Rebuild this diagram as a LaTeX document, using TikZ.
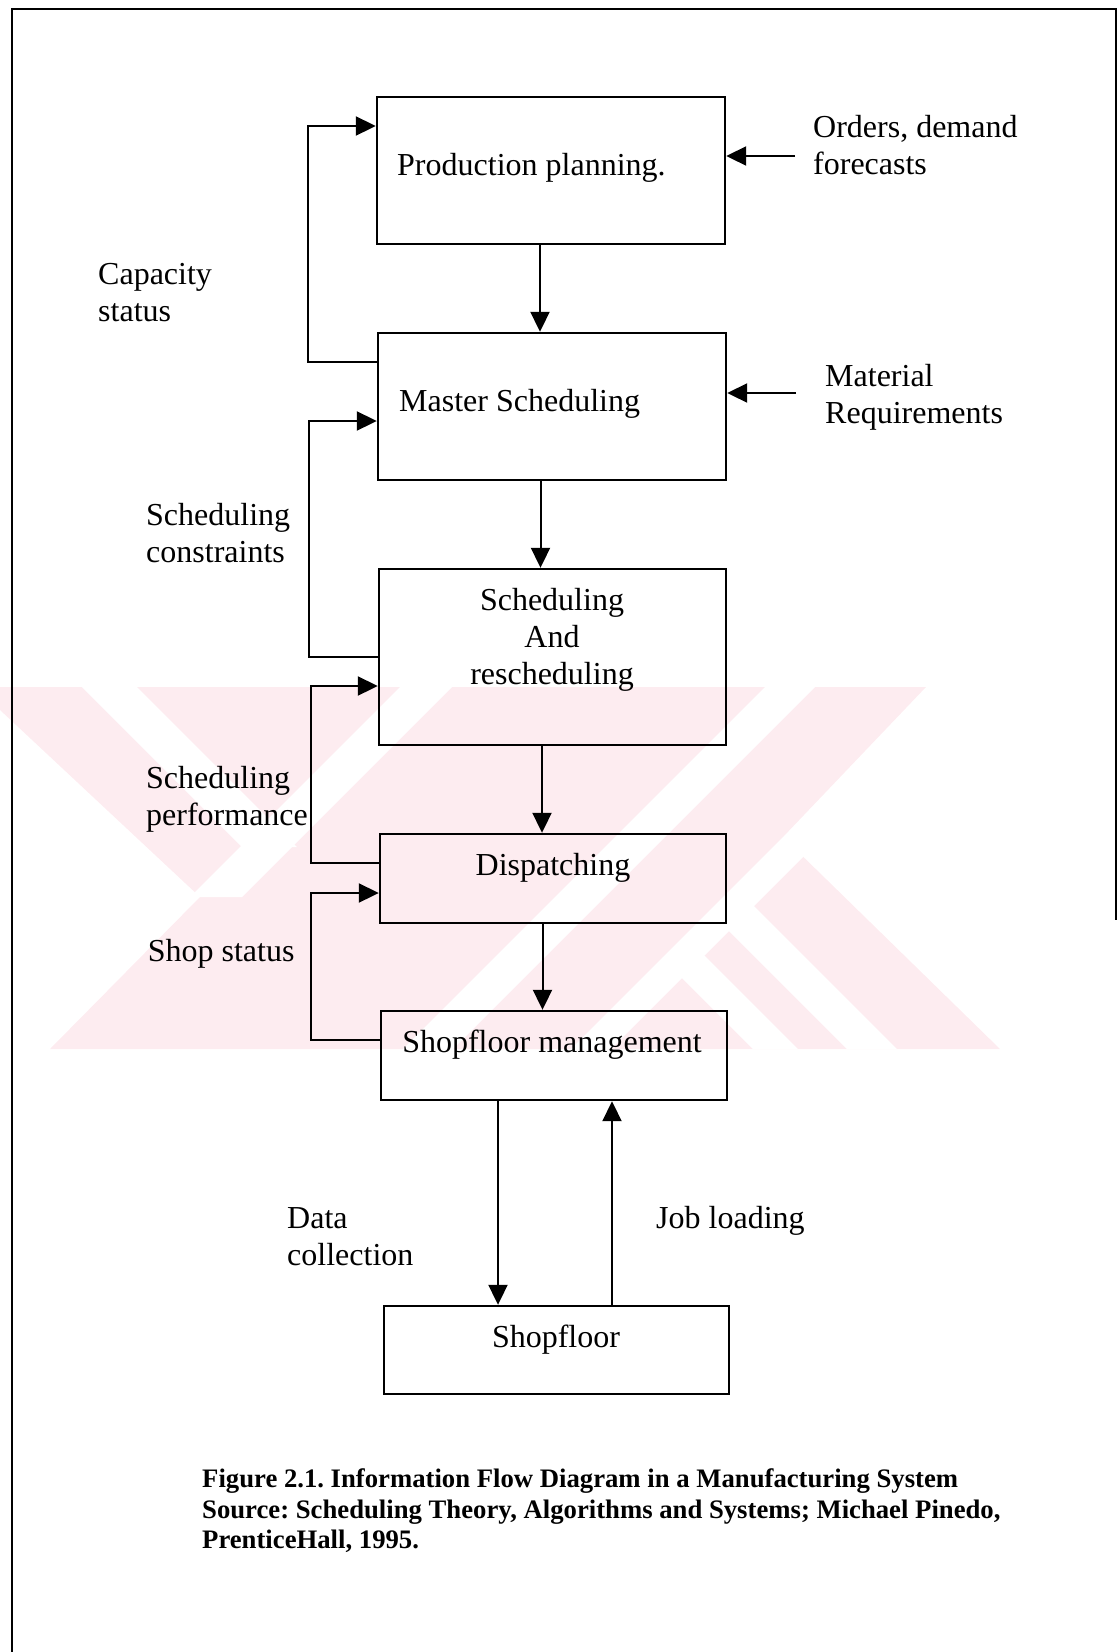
\documentclass[tikz,border=0pt]{standalone}
\usepackage{fontspec}
\setmainfont{Liberation Serif}
\usetikzlibrary{arrows.meta}
\definecolor{wmpink}{RGB}{253,236,240}
\frenchspacing

\begin{document}
\begin{tikzpicture}[x=1pt,y=-1pt,
  >={Triangle[length=20pt,width=19pt]},
  box/.style={draw, line width=2.4pt, inner sep=0pt},
  lbl/.style={inner sep=0pt, anchor=west, align=left, font=\fontsize{32}{37}\selectfont},
  flow/.style={line width=2pt}]
\useasboundingbox (0,0) rectangle (1118,1652);
% watermark
\fill[wmpink] (0,687) -- (926,687) -- (783,837) -- (1000,1049) -- (50,1049) -- (200,897) -- (0,710) -- cycle;
\fill[white] (82,687) -- (137,687) -- (297,847) -- (242,847) -- cycle;
\fill[white] (400,687) -- (452,687) -- (242,897) -- (190,897) -- cycle;
\fill[white] (765,687) -- (815,687) -- (453,1049) -- (403,1049) -- cycle;
\fill[white] (783,837) -- (823,837) -- (611,1049) -- (571,1049) -- cycle;
\fill[white] (709,911) -- (754,906) -- (897,1049) -- (847,1049) -- cycle;
\fill[white] (662,958) -- (704.5,955.5) -- (798,1049) -- (753,1049) -- cycle;
% frame
\draw[line width=2.4pt] (12,1652) -- (12,9) -- (1116,9) -- (1116,920);

\node[box, minimum width=348, minimum height=147] (pp) at (551,170.5) {};
\node[box, minimum width=348, minimum height=147] (ms) at (552,406.5) {};
\node[box, minimum width=347, minimum height=176] (sr) at (552.5,657) {};
\node[box, minimum width=346, minimum height=89] (dp) at (553,878.5) {};
\node[box, minimum width=346, minimum height=89] (sm) at (554,1055.5) {};
\node[box, minimum width=345, minimum height=88] (sf) at (556.5,1350) {};

\node[lbl] (pptxt) at (397,168) {Production planning.};
\node[lbl] (mstxt) at (399,404) {Master Scheduling};
\node[lbl, anchor=center, align=center] (srtxt) at (552,639.5) {Scheduling\\And\\rescheduling};
\node[lbl, anchor=center] (dptxt) at (553,868) {Dispatching};
\node[lbl, anchor=center] (smtxt) at (552,1045) {Shopfloor management};
\node[lbl, anchor=center] (sftxt) at (556,1340) {Shopfloor};

\node[lbl] (orders) at (813,145) {Orders, demand\\forecasts};
\node[lbl] (matreq) at (825,397) {Material\\Requirements};
\node[lbl] (capstat) at (98,293) {Capacity\\status};
\node[lbl] (schcon) at (146,533) {Scheduling\\constraints};
\node[lbl] (schperf) at (146,799) {Scheduling\\performance};
\node[lbl] (shopstat) at (147.6,953.5) {Shop status};
\node[lbl] (datacol) at (287,1237) {Data\\collection};
\node[lbl] (jobload) at (656,1221) {Job loading};
\node[inner sep=0pt, anchor=west, align=left, font=\fontsize{26.7}{30.5}\selectfont\bfseries] (caption) at (202,1511)
  {Figure 2.1. Information Flow Diagram in a Manufacturing System\\Source: Scheduling Theory, Algorithms and Systems; Michael Pinedo,\\PrenticeHall, 1995.};

% main flow
\draw[flow,->] ([xshift=-11pt]pp.south) -- ([xshift=-12pt]ms.north);
\draw[flow,->] ([xshift=-11.5pt]ms.south) -- ([xshift=-12pt]sr.north);
\draw[flow,->] ([xshift=-10.5pt]sr.south) -- ([xshift=-11pt]dp.north);
\draw[flow,->] ([xshift=-10.5pt]dp.south) -- ([xshift=-11.5pt]sm.north);
\draw[flow,->] ([xshift=-56pt]sm.south) -- ([xshift=-58.5pt]sf.north);
\draw[flow,->] ([xshift=55.5pt]sf.north) -- ([xshift=58pt]sm.south);
% feedback loops
\draw[flow,->] ([yshift=44.5pt]ms.west) -- ++(-69,0) |- ([yshift=44.5pt]pp.west);
\draw[flow,->] (sr.west) -- ++(-69,0) |- ([yshift=-14.5pt]ms.west);
\draw[flow,->] ([yshift=15.5pt]dp.west) -- ++(-68,0) |- ([yshift=-29pt]sr.west);
\draw[flow,->] ([yshift=15.5pt]sm.west) -- ++(-69,0) |- ([yshift=-14.5pt]dp.west);
% inputs
\coordinate (ordin) at (795,156);
\coordinate (matin) at (796,393);
\draw[flow,->] (ordin) -- (pp.east |- ordin);
\draw[flow,->] (matin) -- (ms.east |- matin);
\end{tikzpicture}
\end{document}
